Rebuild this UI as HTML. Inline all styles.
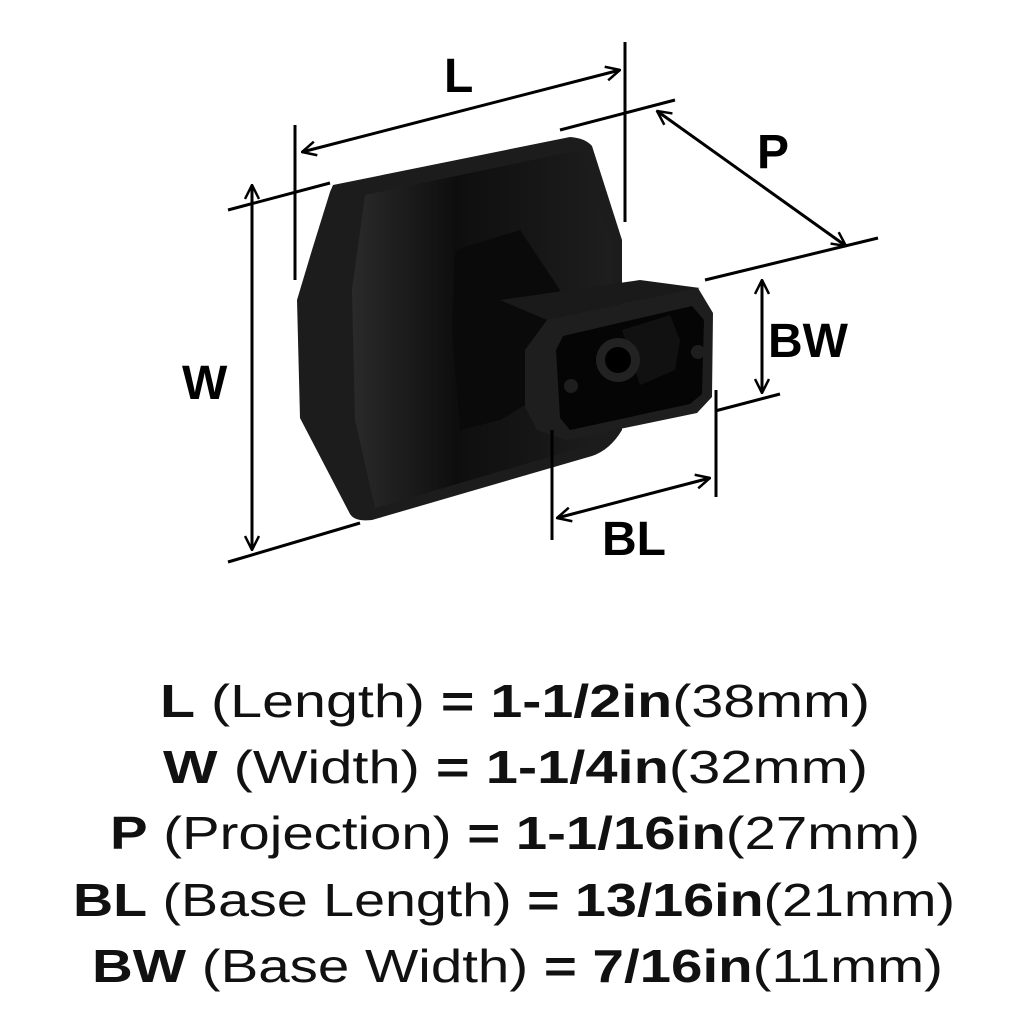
<!DOCTYPE html>
<html><head><style>html,body{margin:0;padding:0;background:#fff;width:1024px;height:1024px;overflow:hidden}</style></head>
<body>
<svg width="1024" height="1024" viewBox="0 0 1024 1024" xmlns="http://www.w3.org/2000/svg" font-family="Liberation Sans, sans-serif">
<defs>
<linearGradient id="pl" x1="0" y1="0" x2="1" y2="0"><stop offset="0" stop-color="#2a2a2a"/><stop offset="0.4" stop-color="#0e0e0e"/><stop offset="1" stop-color="#1e1e1e"/></linearGradient>
<marker id="ah" viewBox="0 0 16 16" refX="15" refY="8" markerWidth="16" markerHeight="16" markerUnits="userSpaceOnUse" orient="auto-start-reverse"><path d="M1,1 L15,8 L1,15" fill="none" stroke="#000" stroke-width="2.5"/></marker>
</defs>
<path d="M333,185 L570,137 Q585,138 592,146 L622,240 L622,430 Q610,450 592,456 L372,520 Q355,522 350,514 L300,418 L297,300 L312,250 L330,192 Z" fill="#1c1c1c"/>
<path d="M365,195 L580,150 L612,245 L612,430 L590,445 L375,508 L355,420 L352,290 Z" fill="url(#pl)"/>
<path d="M455,250 L520,230 L540,260 L560,290 L545,330 L525,350 L525,405 L500,420 L460,430 L452,330 Z" fill="#0a0a0a"/>
<path d="M500,300 L640,280 L700,288 L547,320 Z" fill="#1a1a1a"/>
<path d="M525,350 L547,320 L698,288 L713,313 L712,397 L697,413 L567,440 L537,430 L525,407 Z" fill="#1e1e1e"/>
<path d="M563,336 L692,306 L704,320 L702,394 L690,404 L570,430 L560,418 L556,350 Z" fill="#050505"/>
<path d="M622,330 L670,315 L680,340 L675,370 L640,385 Z" fill="#111"/>
<circle cx="618" cy="360" r="22" fill="#222"/>
<circle cx="618" cy="360" r="13" fill="#000"/>
<circle cx="571" cy="386" r="7" fill="#1e1e1e"/>
<circle cx="698" cy="352" r="7" fill="#1e1e1e"/>
<g stroke="#000" stroke-width="3" fill="none">
<line x1="295" y1="125" x2="295" y2="280"/><line x1="625" y1="42" x2="625" y2="222"/>
<line x1="302" y1="152" x2="620" y2="70" marker-start="url(#ah)" marker-end="url(#ah)"/>
<line x1="228" y1="210" x2="330" y2="183"/><line x1="228" y1="562" x2="360" y2="523"/>
<line x1="252" y1="185" x2="252" y2="550" marker-start="url(#ah)" marker-end="url(#ah)"/>
<line x1="560" y1="130" x2="675" y2="100"/><line x1="705" y1="280" x2="878" y2="238"/>
<line x1="657" y1="111" x2="846" y2="246" marker-start="url(#ah)" marker-end="url(#ah)"/>
<line x1="715" y1="411" x2="780" y2="394"/>
<line x1="762" y1="280" x2="762" y2="393" marker-start="url(#ah)" marker-end="url(#ah)"/>
<line x1="552" y1="430" x2="552" y2="540"/><line x1="716" y1="390" x2="716" y2="497"/>
<line x1="557" y1="518" x2="710" y2="478" marker-start="url(#ah)" marker-end="url(#ah)"/>
</g>
<g font-size="48" font-weight="bold" fill="#000">
<text x="444" y="92">L</text>
<text x="757" y="168">P</text>
<text x="182" y="399">W</text>
<text x="768" y="357">BW</text>
<text x="602" y="555">BL</text>
</g>
<g font-size="46" fill="#111">
<text x="160" y="717" textLength="710" lengthAdjust="spacingAndGlyphs"><tspan font-weight="bold">L</tspan> (Length) <tspan font-weight="bold">= 1-1/2in</tspan>(38mm)</text>
<text x="163" y="783" textLength="705" lengthAdjust="spacingAndGlyphs"><tspan font-weight="bold">W</tspan> (Width) <tspan font-weight="bold">= 1-1/4in</tspan>(32mm)</text>
<text x="110" y="849" textLength="810" lengthAdjust="spacingAndGlyphs"><tspan font-weight="bold">P</tspan> (Projection) <tspan font-weight="bold">= 1-1/16in</tspan>(27mm)</text>
<text x="73" y="916" textLength="882" lengthAdjust="spacingAndGlyphs"><tspan font-weight="bold">BL</tspan> (Base Length) <tspan font-weight="bold">= 13/16in</tspan>(21mm)</text>
<text x="92" y="982" textLength="851" lengthAdjust="spacingAndGlyphs"><tspan font-weight="bold">BW</tspan> (Base Width) <tspan font-weight="bold">= 7/16in</tspan>(11mm)</text>
</g>
</svg>
</body></html>
